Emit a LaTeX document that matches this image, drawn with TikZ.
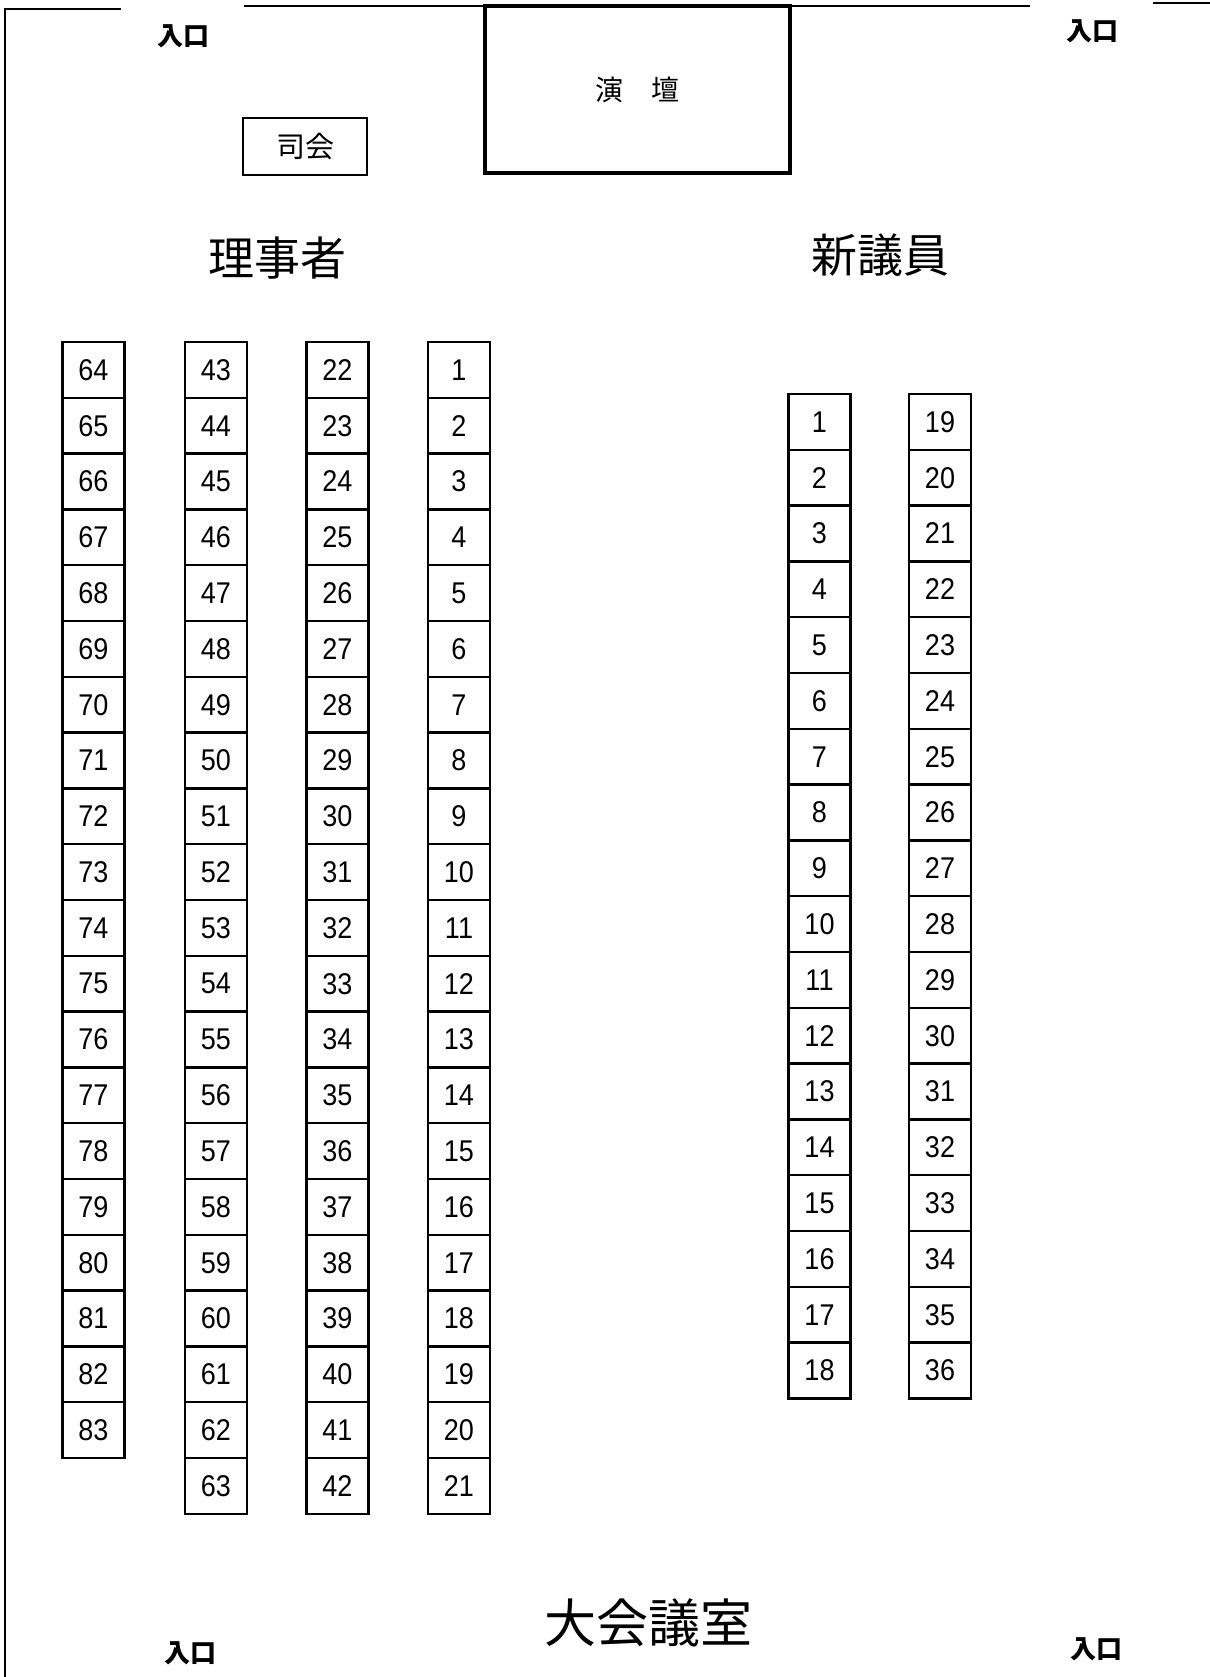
\documentclass[tikz,border=0pt]{standalone}
\usepackage{fontspec}
\usepackage{tikz}
\usetikzlibrary{positioning}
\newfontfamily\numfont{Liberation Sans}[FakeStretch=0.9]
\newfontfamily\jpfont{Noto Sans CJK JP}

\begin{document}
\begin{tikzpicture}[x=0.5pt,y=-0.5pt]
\tikzset{seat/.style={rectangle,minimum width=31pt,minimum height=27.9pt,inner sep=0pt,outer sep=0pt,draw,line width=1.2pt,font=\numfont\fontsize{15}{16}\selectfont}}
\tikzset{podium/.style={rectangle,minimum width=152.5pt,minimum height=83.5pt,draw,line width=2pt,font=\jpfont\fontsize{14}{16}\selectfont}}
\tikzset{host/.style={rectangle,minimum width=62pt,minimum height=28.5pt,draw,line width=1.2pt,font=\jpfont\fontsize{14.5}{16}\selectfont}}
\tikzset{door/.style={font=\jpfont\bfseries\fontsize{13}{14}\selectfont}}
\tikzset{group/.style={font=\jpfont\fontsize{23}{26}\selectfont}}
\tikzset{wall/.style={line width=1.3pt}}
\useasboundingbox (0,0) rectangle (1210,1677);
% walls
\draw[wall] (121,9) -- (5,9) -- (5,1677);
\draw[wall] (244,6) -- (1030,6);
\draw[wall] (1153,3) -- (1210,3);
\node[podium] (stage) at (637.5,89.5) {演\quad 壇};
\node[host] (host) at (305,146.5) {司会};
\node[door] (door1) at (183,36) {入口};
\node[door] (door2) at (1092,31) {入口};
\node[door] (door3) at (190,1653) {入口};
\node[door] (door4) at (1096,1649) {入口};
\node[group] (board) at (277,258) {理事者};
\node[group] (newmembers) at (880,255) {新議員};
\node[font=\jpfont\fontsize{26}{28}\selectfont] (hall) at (648,1623) {大会議室};
% board seats
\foreach \first/\last/\x [evaluate=\first as \second using int(\first+1)] in {1/21/459,22/42/337.5,43/63/216,64/83/93.5}{
  \node[seat] (r\first) at (\x,369.9) {\first};
  \foreach \i [evaluate=\i as \j using int(\i-1)] in {\second,...,\last}
    \node[seat,below=0pt of r\j] (r\i) {\i};
}
% new member seats
\foreach \first/\last/\x [evaluate=\first as \second using int(\first+1)] in {1/18/819.5,19/36/940}{
  \node[seat] (n\first) at (\x,421.9) {\first};
  \foreach \i [evaluate=\i as \j using int(\i-1)] in {\second,...,\last}
    \node[seat,below=0pt of n\j] (n\i) {\i};
}
\end{tikzpicture}
\end{document}
